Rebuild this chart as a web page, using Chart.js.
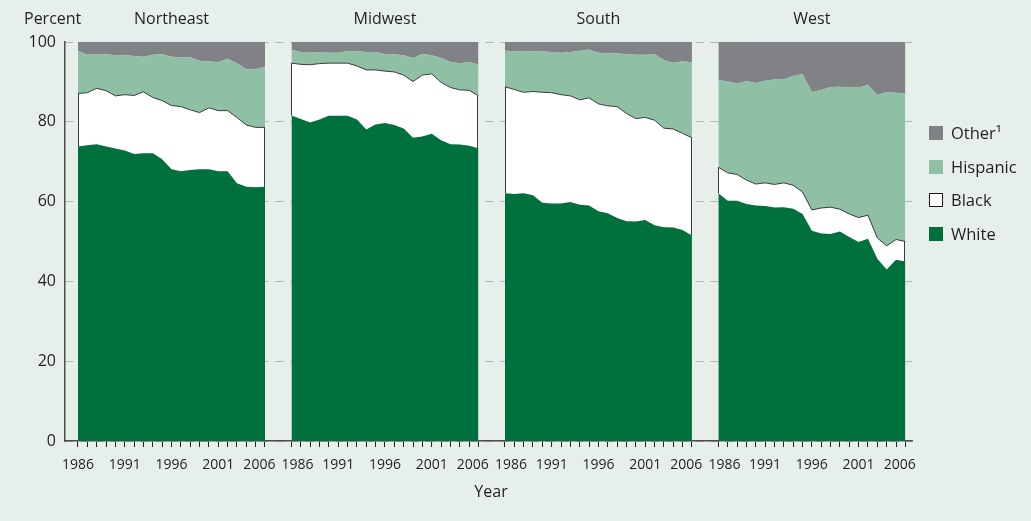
<!DOCTYPE html>
<html><head><meta charset="utf-8">
<script src="https://cdn.jsdelivr.net/npm/chart.js@4.4.1/dist/chart.umd.min.js"></script>
<style>html,body{margin:0;padding:0;background:#e6efea;} canvas{display:block}</style>
</head><body>
<canvas id="c" width="1031" height="521"></canvas>
<script>
const years = [1986,1987,1988,1989,1990,1991,1992,1993,1994,1995,1996,1997,1998,1999,2000,2001,2002,2003,2004,2005,2006];
const tickLabelYears = [1986,1991,1996,2001,2006];
const regions = ['Northeast','Midwest','South','West'];
const seriesNames = ['White','Black','Hispanic','Other\u00B9'];
const yTicks = [0,20,40,60,80,100];

const northeastWhite    = [73.8,74.1,74.4,73.8,73.3,72.8,71.9,72.1,72.1,70.6,68.1,67.6,67.9,68.1,68.1,67.6,67.6,64.6,63.7,63.6,63.7];
const northeastBlack    = [13.3,13.2,14.0,14.0,13.2,14.0,14.7,15.4,14.0,14.7,16.0,16.2,15.1,14.2,15.4,15.2,15.2,16.5,15.5,15.0,14.9];
const northeastHispanic = [10.7,9.5,8.6,9.1,10.2,9.9,9.9,8.8,10.7,11.7,12.2,12.4,13.2,13.0,11.6,12.2,13.0,13.6,14.0,14.6,15.2];
const northeastOther    = [2.2,3.2,3.0,3.1,3.3,3.3,3.5,3.7,3.2,3.0,3.7,3.8,3.8,4.7,4.9,5.0,4.2,5.3,6.8,6.8,6.2];

const midwestWhite    = [81.6,80.7,79.8,80.6,81.5,81.5,81.5,80.6,78.1,79.3,79.7,79.2,78.3,76.0,76.3,77.0,75.4,74.4,74.3,74.0,73.4];
const midwestBlack    = [13.1,13.7,14.5,14.0,13.2,13.2,13.2,13.4,14.9,13.7,13.0,13.3,13.4,14.1,15.4,15.0,14.5,14.2,13.7,13.9,13.1];
const midwestHispanic = [3.3,3.1,3.2,2.8,2.6,2.6,3.0,3.7,4.5,4.5,4.3,4.4,5.0,5.9,5.3,4.7,6.1,6.4,6.7,7.1,7.8];
const midwestOther    = [2.0,2.5,2.5,2.6,2.7,2.7,2.3,2.3,2.5,2.5,3.0,3.1,3.3,4.0,3.0,3.3,4.0,5.0,5.3,5.0,5.7];

const southWhite    = [62.1,61.9,62.1,61.6,59.7,59.5,59.5,59.9,59.2,59.0,57.6,57.1,55.9,55.1,55.0,55.4,54.1,53.6,53.5,52.9,51.5];
const southBlack    = [26.7,26.2,25.3,26.0,27.7,27.8,27.3,26.6,26.3,27.0,26.9,26.9,27.9,27.0,25.8,25.7,26.3,24.8,24.7,24.2,24.5];
const southHispanic = [9.0,9.6,10.2,10.1,10.3,10.2,10.5,11.0,12.3,12.1,12.8,13.2,13.3,14.9,16.0,15.7,16.5,17.1,16.6,18.1,18.9];
const southOther    = [2.2,2.3,2.4,2.3,2.3,2.5,2.7,2.5,2.2,1.9,2.7,2.8,2.9,3.0,3.2,3.2,3.1,4.5,5.2,4.8,5.1];

const westWhite    = [62.1,60.2,60.2,59.4,59.0,58.9,58.5,58.6,58.2,56.9,52.7,52.0,51.9,52.5,51.1,49.9,50.7,45.7,43.0,45.4,45.0];
const westBlack    = [6.5,7.0,6.6,6.0,5.4,5.8,5.8,6.1,5.9,5.5,5.2,6.4,6.7,5.6,5.8,6.1,5.9,5.2,5.9,5.1,5.0];
const westHispanic = [21.9,22.9,22.8,24.8,25.3,25.6,26.3,25.9,27.4,29.6,29.6,29.6,30.1,30.7,31.7,32.6,32.6,35.8,38.6,36.8,37.1];
const westOther    = [9.5,9.9,10.4,9.8,10.3,9.7,9.4,9.4,8.5,8.0,12.5,12.0,11.3,11.2,11.4,11.4,10.8,13.3,12.5,12.7,12.9];

const regionData = [
  [northeastWhite, northeastBlack, northeastHispanic, northeastOther],
  [midwestWhite, midwestBlack, midwestHispanic, midwestOther],
  [southWhite, southBlack, southHispanic, southOther],
  [westWhite, westBlack, westHispanic, westOther]
];

// styling / layout
const PANEL_SPAN = 22.83;
const FONT = '"Open Sans", sans-serif';
const TEXT = '#231f20';
const BG = '#e6efea';
const fills = ['#00703c', '#ffffff', '#8fbfa5', '#808285'];

const xOf = (r, year) => r * PANEL_SPAN + (year - years[0]);

const datasets = [];
regionData.forEach((vals, r) => {
  vals.forEach((arr, s) => {
    datasets.push({
      label: seriesNames[s],
      data: years.map((yr, i) => ({x: xOf(r, yr), y: arr[i]})),
      backgroundColor: fills[s],
      borderColor: s === 1 ? '#3a3a3a' : 'rgba(0,0,0,0)',
      borderWidth: s === 1 ? 1 : 0,
      pointRadius: 0,
      tension: 0,
      fill: s === 0 ? 'origin' : '-1',
      stack: 'r' + r
    });
  });
});

// tick marks at every year; labels every five years (edge labels nudged inward as in the original)
const tickPositions = [];
regions.forEach((_, r) => years.forEach(yr => tickPositions.push(xOf(r, yr))));
const labelPositions = [];
const labelTexts = [];
regions.forEach((_, r) => tickLabelYears.forEach(yr => {
  let nudge = 0;
  if (yr === years[0] && r > 0) nudge = 0.65;
  if (yr === years[years.length - 1]) nudge = -0.6;
  labelPositions.push(xOf(r, yr) + nudge);
  labelTexts.push(String(yr));
}));

const bgPlugin = {
  id: 'bg',
  beforeDraw(chart) {
    const c = chart.ctx;
    c.save(); c.fillStyle = BG; c.fillRect(0, 0, chart.width, chart.height); c.restore();
  }
};

const decorPlugin = {
  id: 'decor',
  afterDatasetsDraw(chart) {
    const c = chart.ctx, xs = chart.scales.x, ys = chart.scales.y;
    c.save();
    c.strokeStyle = '#3a3a3a'; c.lineWidth = 1;
    regionData.forEach((vals, r) => {
      [0, years.length - 1].forEach(i => {
        const px = Math.round(xs.getPixelForValue(xOf(r, years[i]))) + (i === 0 ? 0.5 : -0.5);
        c.beginPath();
        c.moveTo(px, ys.getPixelForValue(vals[0][i]));
        c.lineTo(px, ys.getPixelForValue(vals[0][i] + vals[1][i]));
        c.stroke();
      });
    });
    c.restore();
  },
  afterDraw(chart) {
    const c = chart.ctx, xs = chart.scales.x;
    c.save();
    c.fillStyle = TEXT;
    c.font = '16px ' + FONT;
    c.textBaseline = 'middle';
    c.textAlign = 'left';
    c.fillText('Percent', 24, 19);
    c.textAlign = 'center';
    regions.forEach((name, r) => {
      const cx = (xs.getPixelForValue(xOf(r, years[0])) + xs.getPixelForValue(xOf(r, years[years.length-1]))) / 2;
      c.fillText(name, cx, 19);
    });
    c.fillText('Year', 491, 492);
    // legend
    const order = [3, 2, 1, 0];
    const ly = [133, 167, 200, 234];
    c.textAlign = 'left';
    c.font = '16.5px ' + FONT;
    order.forEach((s, k) => {
      c.fillStyle = fills[s];
      c.fillRect(929, ly[k] - 7, 14, 14);
      if (s === 1) {
        c.strokeStyle = '#231f20'; c.lineWidth = 1;
        c.strokeRect(929.5, ly[k] - 6.5, 13, 13);
      }
      c.fillStyle = TEXT;
      c.fillText(seriesNames[s], 951, ly[k] + 1);
    });
    c.restore();
  }
};

new Chart(document.getElementById('c'), {
  type: 'line',
  data: { datasets },
  plugins: [bgPlugin, decorPlugin],
  options: {
    responsive: false,
    animation: false,
    layout: { padding: { top: 42, right: 119, bottom: 0, left: 0 } },
    plugins: { legend: { display: false }, tooltip: { enabled: false } },
    scales: {
      x: {
        type: 'linear',
        weight: 0,
        min: -1.39,
        max: 89.2,
        afterFit(scale) { scale.height = 6; },
        afterBuildTicks(scale) { scale.ticks = tickPositions.map(v => ({ value: v })); },
        grid: { display: true, drawOnChartArea: false, drawTicks: true, tickLength: 6, color: '#231f20', lineWidth: 1 },
        border: { display: true, color: '#4d4d4d', width: 1.5 },
        ticks: { display: false, autoSkip: false }
      },
      xl: {
        type: 'linear',
        position: 'bottom',
        weight: 1,
        min: -1.39,
        max: 89.2,
        afterFit(scale) { scale.height = 74; },
        afterBuildTicks(scale) { scale.ticks = labelPositions.map(v => ({ value: v })); },
        grid: { display: false, drawTicks: false },
        border: { display: false },
        ticks: {
          autoSkip: false, maxRotation: 0, minRotation: 0, padding: 10,
          color: TEXT, font: { family: FONT, size: 14 },
          callback: (v, i) => labelTexts[i]
        }
      },
      y: {
        stacked: true,
        min: 0, max: 100,
        afterFit(scale) { scale.width = 65; },
        afterBuildTicks(scale) { scale.ticks = yTicks.map(v => ({ value: v })); },
        grid: { color: '#b3b3b3', lineWidth: 1, drawTicks: false },
        border: { display: true, color: '#4d4d4d', width: 1.5, dash: [8, 7] },
        ticks: { padding: 9, color: TEXT, font: { family: FONT, size: 16 } }
      }
    }
  }
});
</script>
</body></html>
